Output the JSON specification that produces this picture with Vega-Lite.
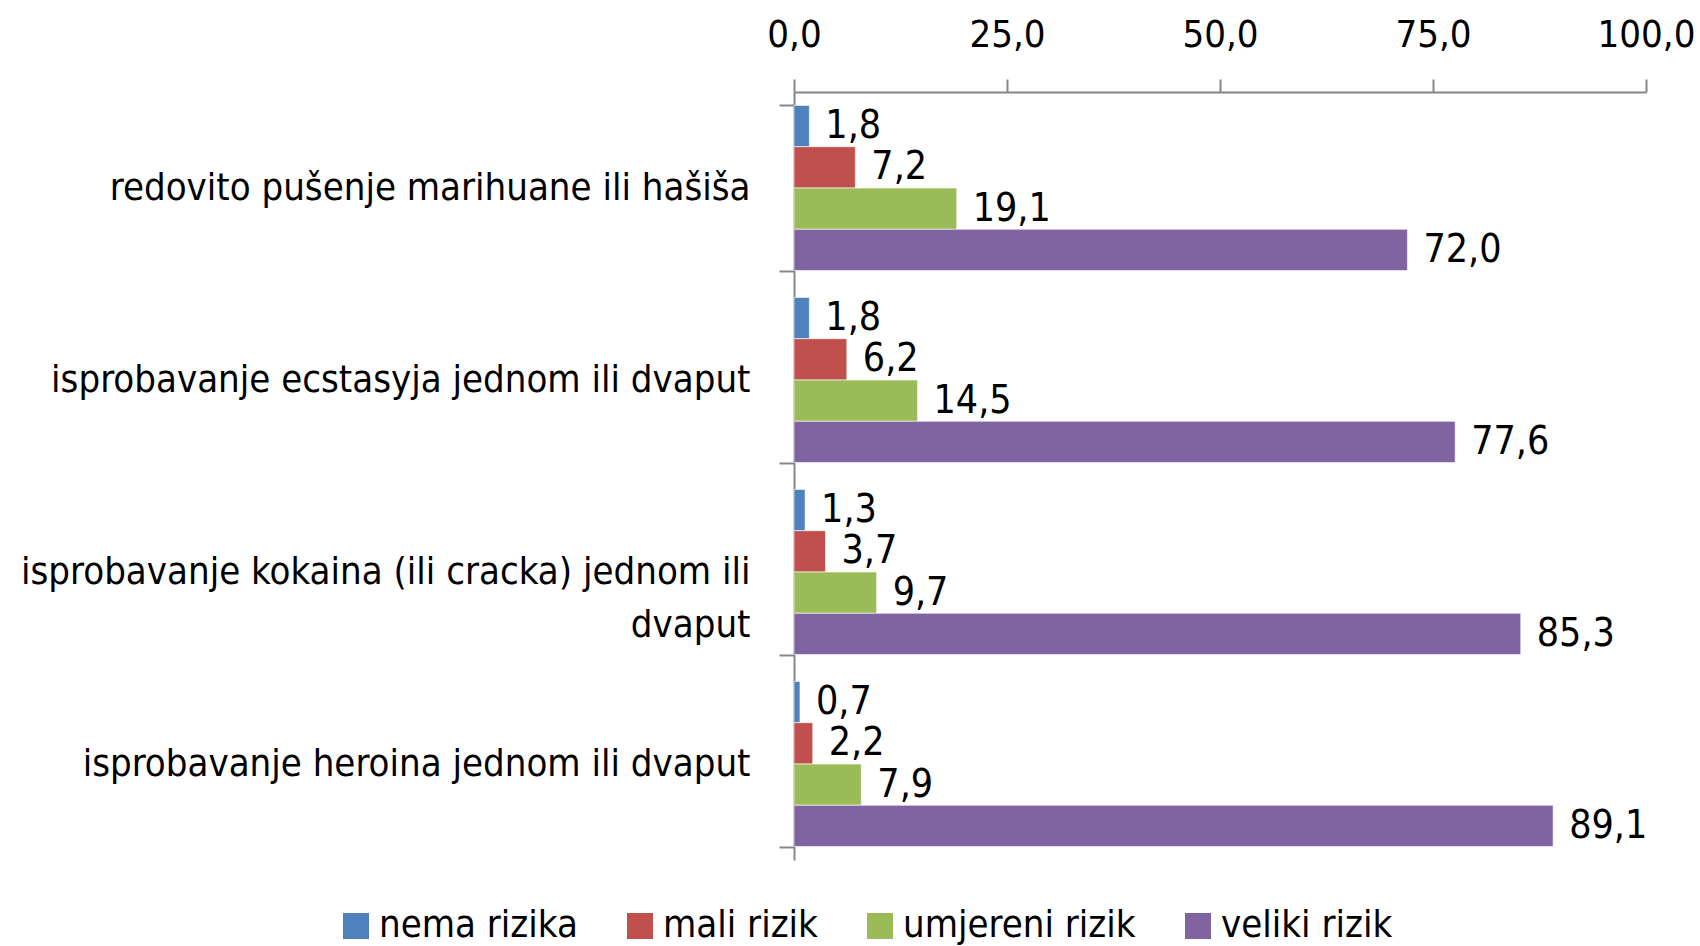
{
  "$schema": "https://vega.github.io/schema/vega-lite/v6.json",
  "autosize": "none",
  "width": 852,
  "height": 768,
  "padding": {"left": 794, "top": 92, "right": 54, "bottom": 86},
  "config": {
    "locale": {"number": {"decimal": ",", "thousands": ".", "grouping": [3], "currency": ["", ""]}},
    "font": "DejaVu Sans Condensed, sans-serif",
    "view": {"stroke": null},
    "axis": {"labelFont": "DejaVu Sans Condensed, sans-serif", "labelColor": "#000000", "domainColor": "#868686", "tickColor": "#868686", "domainWidth": 2, "tickWidth": 2},
    "legend": {"labelFont": "DejaVu Sans Condensed, sans-serif"}
  },
  "data": {
    "values": [
      {"kategorija": "redovito pušenje marihuane ili hašiša", "rizik": "nema rizika", "vrijednost": 1.8},
      {"kategorija": "redovito pušenje marihuane ili hašiša", "rizik": "mali rizik", "vrijednost": 7.2},
      {"kategorija": "redovito pušenje marihuane ili hašiša", "rizik": "umjereni rizik", "vrijednost": 19.1},
      {"kategorija": "redovito pušenje marihuane ili hašiša", "rizik": "veliki rizik", "vrijednost": 72.0},
      {"kategorija": "isprobavanje ecstasyja jednom ili dvaput", "rizik": "nema rizika", "vrijednost": 1.8},
      {"kategorija": "isprobavanje ecstasyja jednom ili dvaput", "rizik": "mali rizik", "vrijednost": 6.2},
      {"kategorija": "isprobavanje ecstasyja jednom ili dvaput", "rizik": "umjereni rizik", "vrijednost": 14.5},
      {"kategorija": "isprobavanje ecstasyja jednom ili dvaput", "rizik": "veliki rizik", "vrijednost": 77.6},
      {"kategorija": "isprobavanje kokaina (ili cracka) jednom ili dvaput", "rizik": "nema rizika", "vrijednost": 1.3},
      {"kategorija": "isprobavanje kokaina (ili cracka) jednom ili dvaput", "rizik": "mali rizik", "vrijednost": 3.7},
      {"kategorija": "isprobavanje kokaina (ili cracka) jednom ili dvaput", "rizik": "umjereni rizik", "vrijednost": 9.7},
      {"kategorija": "isprobavanje kokaina (ili cracka) jednom ili dvaput", "rizik": "veliki rizik", "vrijednost": 85.3},
      {"kategorija": "isprobavanje heroina jednom ili dvaput", "rizik": "nema rizika", "vrijednost": 0.7},
      {"kategorija": "isprobavanje heroina jednom ili dvaput", "rizik": "mali rizik", "vrijednost": 2.2},
      {"kategorija": "isprobavanje heroina jednom ili dvaput", "rizik": "umjereni rizik", "vrijednost": 7.9},
      {"kategorija": "isprobavanje heroina jednom ili dvaput", "rizik": "veliki rizik", "vrijednost": 89.1}
    ]
  },
  "encoding": {
    "y": {
      "field": "kategorija", "type": "nominal", "sort": null,
      "scale": {"paddingInner": 0.14, "paddingOuter": 0.07},
      "axis": {
        "title": null, "orient": "left", "tickBand": "extent", "tickSize": 15,
        "labelFontSize": 38, "labelPadding": 29, "labelLimit": 900, "labelLineHeight": 53,
        "labelExpr": "datum.label == 'isprobavanje kokaina (ili cracka) jednom ili dvaput' ? ['isprobavanje kokaina (ili cracka) jednom ili', 'dvaput'] : datum.label"
      }
    },
    "yOffset": {"field": "rizik", "type": "nominal", "sort": ["nema rizika", "mali rizik", "umjereni rizik", "veliki rizik"], "scale": {"paddingInner": 0, "paddingOuter": 0}},
    "x": {
      "field": "vrijednost", "type": "quantitative",
      "scale": {"domain": [0, 100], "nice": false},
      "axis": {"title": null, "orient": "top", "values": [0, 25, 50, 75, 100], "format": ".1f", "tickSize": 13, "labelFontSize": 38, "labelPadding": 25, "grid": false, "labelFlush": false}
    }
  },
  "layer": [
    {
      "mark": {"type": "bar", "stroke": "#ffffff", "strokeWidth": 1, "strokeOpacity": 0.6},
      "encoding": {
        "color": {
          "field": "rizik", "type": "nominal",
          "sort": ["nema rizika", "mali rizik", "umjereni rizik", "veliki rizik"],
          "scale": {"domain": ["nema rizika", "mali rizik", "umjereni rizik", "veliki rizik"], "range": ["#4F81BD", "#C0504D", "#9BBB59", "#8064A2"]},
          "legend": {
            "title": null, "orient": "none", "direction": "horizontal", "legendX": -457, "legendY": 815,
            "symbolType": "square", "symbolSize": 676, "symbolStrokeWidth": 0, "labelFontSize": 38, "labelOffset": 4,
            "columnPadding": 43, "padding": 0, "labelLimit": 400
          }
        }
      }
    },
    {
      "mark": {"type": "text", "align": "left", "baseline": "middle", "dx": 16, "fontSize": 39, "color": "#000000"},
      "encoding": {
        "text": {"field": "vrijednost", "type": "quantitative", "format": ".1f"}
      }
    }
  ]
}
